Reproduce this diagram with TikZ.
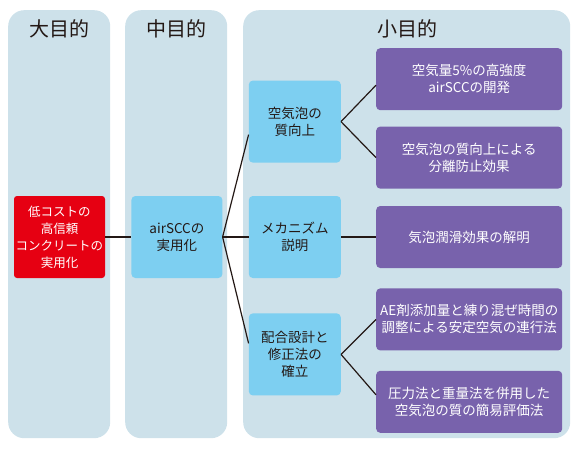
\documentclass[tikz,border=0pt]{standalone}
\usepackage{fontspec}
\setmainfont{Noto Sans CJK JP}
\usetikzlibrary{positioning}
\definecolor{bgpanel}{HTML}{CDE1EA}
\definecolor{sky}{HTML}{7DCFF1}
\definecolor{grape}{HTML}{7862AC}
\definecolor{alert}{HTML}{E60012}
\definecolor{ink}{HTML}{231815}

\begin{document}
\begin{tikzpicture}[x=1pt,y=-1pt,font=\fontsize{13.5}{17}\selectfont,text=ink,
col/.style={fill=bgpanel,rounded corners=16pt,anchor=north west,minimum width=102pt,minimum height=428pt},
head/.style={font=\fontsize{20}{24}\selectfont},
goal/.style={fill=alert,text=white,rounded corners=3pt,minimum width=91pt,minimum height=82pt,
align=center,inner sep=0pt,font=\fontsize{12.5}{17}\selectfont},
midbox/.style={fill=sky,rounded corners=4pt,minimum width=92pt,minimum height=82pt,align=center,inner sep=0pt},
subbox/.style={fill=grape,text=white,rounded corners=4pt,minimum width=186pt,minimum height=62pt,align=center,inner sep=0pt},
link/.style={line width=1.2pt,draw=ink}]
\useasboundingbox (0,0) rectangle (578,450);
\node[col] (big) at (8,10) {};
\node[col] (middle) at (125,10) {};
\node[col,minimum width=327pt] (small) at (243,10) {};
\node[head] (bighead) at (59,29) {大目的};
\node[head] (midhead) at (176,29) {中目的};
\node[head] (smallhead) at (407,29) {小目的};
\node[goal] (goal) at (59.5,237) {低コストの\\高信頼\\コンクリートの\\実用化};
\node[midbox,minimum width=91pt,right=26pt of goal] (use) {airSCCの\\実用化};
\node[midbox,right=26pt of use] (mech) {メカニズム\\説明};
\node[midbox,above=33pt of mech] (bubble) {空気泡の\\質向上};
\node[midbox,below=35pt of mech] (mix) {配合設計と\\修正法の\\確立};
\node[subbox,right=35pt of mech] (lube) {気泡潤滑効果の解明};
\node[subbox,above=17pt of lube] (sep) {空気泡の質向上による\\分離防止効果};
\node[subbox,above=16pt of sep] (strong) {空気量5\%の高強度\\airSCCの開発};
\node[subbox,below=20pt of lube] (ae) {AE剤添加量と練り混ぜ時間の\\調整による安定空気の連行法};
\node[subbox,below=20pt of ae] (test) {圧力法と重量法を併用した\\空気泡の質の簡易評価法};
\draw[link] (goal) -- (use);
\draw[link] (use.east) -- ([yshift=-13pt]bubble.west);
\draw[link] (use) -- (mech);
\draw[link] (use.east) -- ([yshift=11pt]mix.west);
\draw[link] (bubble.east) -- ([yshift=-6pt]strong.west);
\draw[link] (bubble.east) -- (sep.west);
\draw[link] (mech) -- (lube);
\draw[link] (mix.east) -- (ae.west);
\draw[link] (mix.east) -- ([yshift=7pt]test.west);
\end{tikzpicture}
\end{document}
